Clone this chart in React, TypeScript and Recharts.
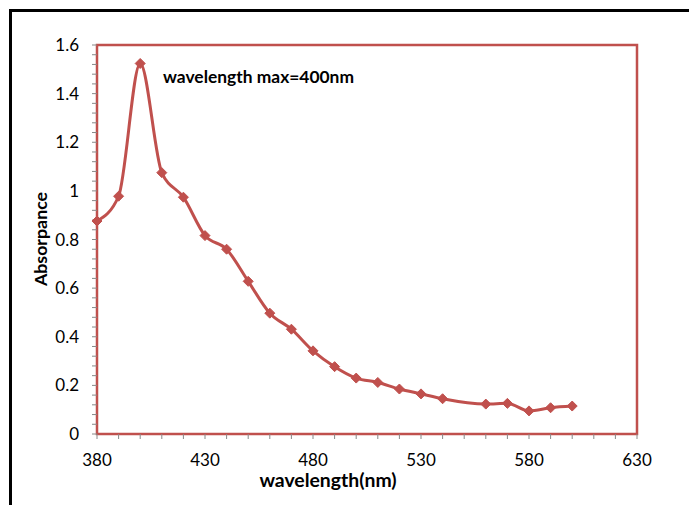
import React from "react";
import { LineChart, Line, XAxis, YAxis, ReferenceArea } from "recharts";

const wavelengths = [380, 390, 400, 410, 420, 430, 440, 450, 460, 470, 480, 490, 500, 510, 520, 530, 540, 560, 570, 580, 590, 600];
const absorbance = [0.876, 0.978, 1.524, 1.075, 0.974, 0.816, 0.76, 0.628, 0.497, 0.431, 0.342, 0.277, 0.23, 0.212, 0.185, 0.165, 0.145, 0.123, 0.126, 0.095, 0.108, 0.115];

const xTicks = [380, 390, 400, 410, 420, 430, 440, 450, 460, 470, 480, 490, 500, 510, 520, 530, 540, 550, 560, 570, 580, 590, 600, 610, 620, 630];
const xLabels = [380, 430, 480, 530, 580, 630];
const yLabels = [0, 0.2, 0.4, 0.6, 0.8, 1, 1.2, 1.4, 1.6];
// minor ticks every 0.04 between the labelled ones
const yTicks = Array.from({ length: 41 }, (_, i) => Math.round(i * 4) / 100);

const data = wavelengths.map((w, i) => ({ w, a: absorbance[i] }));

const RED = "#C0504D";
const FONT = "Lato, 'Noto Sans', sans-serif";

function XTick({ x, y, payload }: any) {
  if (!xLabels.includes(payload.value)) return null;
  return (
    <text x={x} y={y} dy={25} textAnchor="middle" fontFamily={FONT} fontSize={17} fill="#000">
      {payload.value}
    </text>
  );
}

function YTick({ x, y, payload }: any) {
  const lab = yLabels.find((v) => Math.abs(v - payload.value) < 1e-6);
  if (lab === undefined) return null;
  return (
    <text x={x} y={y} dx={-11} dy={6} textAnchor="end" fontFamily={FONT} fontSize={17} fill="#000">
      {String(lab)}
    </text>
  );
}

function Diamond({ cx, cy }: any) {
  if (cx == null || cy == null) return null;
  const r = 5;
  return <polygon points={`${cx},${cy - r} ${cx + r},${cy} ${cx},${cy + r} ${cx - r},${cy}`} fill={RED} stroke={RED} strokeWidth={1} />;
}

export default function App() {
  return (
    <div style={{ position: "absolute", left: 0, top: 0, width: 689, height: 505, overflow: "hidden", background: "#fff" }}>
      <div style={{ position: "absolute", left: 9, top: 9, width: 720, height: 540, border: "3px solid #000" }} />
      <div style={{ position: "absolute", left: 0, top: 0 }}>
        <LineChart width={689} height={505} data={data} margin={{ top: 45, right: 52, bottom: 0, left: 0 }}>
          <XAxis
            dataKey="w"
            type="number"
            domain={[380, 630]}
            ticks={xTicks}
            interval={0}
            height={71}
            axisLine={false}
            tickLine={{ stroke: "#888" }}
            tickSize={5}
            tick={<XTick />}
          />
          <YAxis
            type="number"
            domain={[0, 1.6]}
            ticks={yTicks}
            interval={0}
            width={97}
            axisLine={false}
            tickLine={{ stroke: "#888" }}
            tickSize={5}
            tick={<YTick />}
          />
          <ReferenceArea x1={380} x2={630} y1={0} y2={1.6} fill="none" stroke={RED} strokeWidth={2.5} ifOverflow="visible" />
          <Line
            dataKey="a"
            type="monotone"
            stroke={RED}
            strokeWidth={3}
            dot={<Diamond />}
            activeDot={false}
            isAnimationActive={false}
          />
          <text x={163} y={83} fontFamily={FONT} fontSize={17.4} fontWeight="bold" fill="#000">
            wavelength max=400nm
          </text>
          <text x={328} y={487} textAnchor="middle" fontFamily={FONT} fontSize={19.4} fontWeight="bold" fill="#000">
            wavelength(nm)
          </text>
          <text
            x={47}
            y={239}
            textAnchor="middle"
            transform="rotate(-90 47 239)"
            fontFamily={FONT}
            fontSize={17.8}
            fontWeight="bold"
            fill="#000"
          >
            Absorpance
          </text>
        </LineChart>
      </div>
    </div>
  );
}
